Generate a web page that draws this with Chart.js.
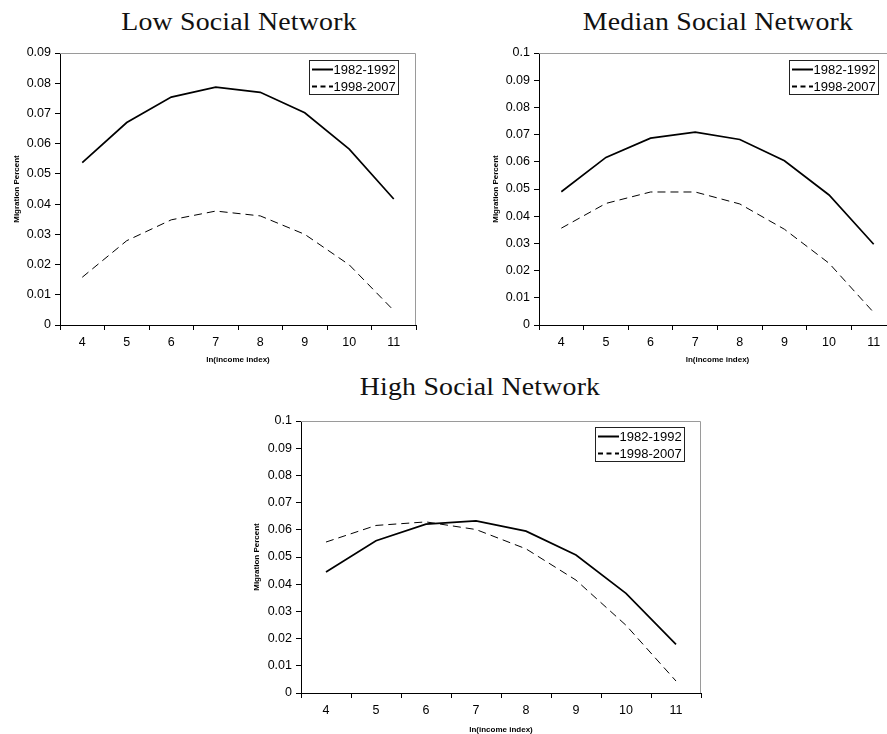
<!DOCTYPE html>
<html>
<head>
<meta charset="utf-8">
<script src="https://cdn.jsdelivr.net/npm/chart.js@4.4.1/dist/chart.umd.min.js"></script>
<style>
  html, body { margin: 0; padding: 0; background: #fff; width: 887px; height: 734px; overflow: hidden; }
  body { position: relative; }
  canvas { position: absolute; }
  .ttl {
    position: absolute; white-space: nowrap; transform: translateX(-50%) scaleX(1.07);
    font-family: "Liberation Serif", "Times New Roman", serif; font-size: 26px;
    line-height: 26px; letter-spacing: 0.2px; color: #111;
  }
</style>
</head>
<body>
<div class="ttl" id="t1" style="left:239px; top:9px;"></div>
<div class="ttl" id="t2" style="left:718px; top:9px;"></div>
<div class="ttl" id="t3" style="left:480px; top:374px;"></div>
<canvas id="c1" width="440" height="370" style="left:0px; top:0px;"></canvas>
<canvas id="c2" width="441" height="370" style="left:479px; top:0px;"></canvas>
<canvas id="c3" width="480" height="380" style="left:240px; top:370px;"></canvas>
<script>
// ln(income index) categories shared by all three panels
const incomeIndex = ['4', '5', '6', '7', '8', '9', '10', '11'];
const periodLabels = ['1982-1992', '1998-2007'];
const panelTitles = ['Low Social Network', 'Median Social Network', 'High Social Network'];

// Migration percent by income level, per network group and period
const lowEarly    = [0.0537, 0.0670, 0.0754, 0.0787, 0.0770, 0.0702, 0.0582, 0.0417];
const lowLate     = [0.0158, 0.0279, 0.0348, 0.0377, 0.0361, 0.0300, 0.0199, 0.0048];
const medianEarly = [0.0490, 0.0616, 0.0687, 0.0709, 0.0682, 0.0604, 0.0478, 0.0297];
const medianLate  = [0.0356, 0.0447, 0.0489, 0.0489, 0.0445, 0.0352, 0.0227, 0.0046];
const highEarly   = [0.0445, 0.0560, 0.0621, 0.0633, 0.0595, 0.0507, 0.0366, 0.0179];
const highLate    = [0.0555, 0.0616, 0.0629, 0.0601, 0.0530, 0.0415, 0.0249, 0.0044];

const yMaxima = [0.09, 0.1, 0.1];

const SANS = '"Liberation Sans", Arial, Helvetica, sans-serif';

document.getElementById('t1').textContent = panelTitles[0];
document.getElementById('t2').textContent = panelTitles[1];
document.getElementById('t3').textContent = panelTitles[2];

// Gray top/right frame and a boxed key in the upper right of the plot
const frameAndKey = {
  id: 'frameAndKey',
  beforeDatasetsDraw(chart) {
    const { ctx, chartArea: a } = chart;
    ctx.save();
    ctx.strokeStyle = '#9a9a9a';
    ctx.lineWidth = 1;
    ctx.beginPath();
    ctx.moveTo(a.left, Math.round(a.top) + 0.5);
    ctx.lineTo(Math.round(a.right) - 0.5, Math.round(a.top) + 0.5);
    ctx.lineTo(Math.round(a.right) - 0.5, a.bottom);
    ctx.stroke();
    ctx.restore();
  },
  afterDraw(chart) {
    const { ctx, chartArea: a } = chart;
    const opts = chart.options.plugins.frameAndKey;
    const sets = chart.data.datasets;
    ctx.save();
    ctx.font = '13px ' + SANS;
    let tw = 0;
    sets.forEach(d => { tw = Math.max(tw, ctx.measureText(d.label).width); });
    const boxW = Math.round(24 + tw + 3);
    const boxH = 34;
    const x0 = Math.round(a.right - opts.gapRight - boxW) + 0.5;
    const y0 = Math.round(a.top + opts.gapTop) + 0.5;
    ctx.fillStyle = '#fff';
    ctx.fillRect(x0, y0, boxW, boxH);
    ctx.strokeStyle = '#222';
    ctx.lineWidth = 1;
    ctx.strokeRect(x0, y0, boxW, boxH);
    const rows = [8.5, 25.5];
    sets.forEach((d, i) => {
      const cy = y0 + rows[i];
      ctx.strokeStyle = '#000';
      ctx.lineWidth = 2;
      ctx.setLineDash(d.borderDash && d.borderDash.length ? [5, 3.5] : []);
      ctx.beginPath();
      ctx.moveTo(x0 + 2.5, Math.round(cy) + 0.5);
      ctx.lineTo(x0 + 23.5, Math.round(cy) + 0.5);
      ctx.stroke();
      ctx.setLineDash([]);
      ctx.fillStyle = '#000';
      ctx.textBaseline = 'middle';
      ctx.textAlign = 'left';
      ctx.fillText(d.label, x0 + 24, cy + 1);
    });
    ctx.restore();
  }
};

function fmtTick(v) {
  return String(Number(v.toFixed(2)));
}

function makePanel(id, early, late, yMax, cfg) {
  return new Chart(document.getElementById(id), {
    type: 'line',
    data: {
      labels: incomeIndex,
      datasets: [
        { label: periodLabels[0], data: early, borderColor: '#000', borderWidth: 1.7,
          pointRadius: 0, tension: 0, fill: false },
        { label: periodLabels[1], data: late, borderColor: '#000', borderWidth: 1,
          borderDash: [8, 5], pointRadius: 0, tension: 0, fill: false }
      ]
    },
    options: {
      responsive: false,
      maintainAspectRatio: false,
      animation: false,
      devicePixelRatio: 1,
      layout: { padding: { top: cfg.padTop, right: cfg.padRight, left: 0, bottom: 0 } },
      plugins: {
        legend: { display: false },
        title: { display: false },
        tooltip: { enabled: false },
        frameAndKey: { gapRight: cfg.keyRight, gapTop: cfg.keyTop }
      },
      scales: {
        x: {
          type: 'category',
          offset: true,
          grid: { offset: true, drawOnChartArea: false, drawTicks: true, tickLength: 5,
                  color: '#000', tickColor: '#000' },
          border: { display: true, color: '#000', width: 1 },
          ticks: { color: '#000', padding: 5, maxRotation: 0, autoSkip: false,
                   font: { family: SANS, size: 12.5 } },
          title: { display: true, text: 'ln(income index)', color: '#000',
                   font: { family: SANS, size: 8, weight: 'bold' },
                   padding: { top: 0, bottom: cfg.xTitlePad } },
          afterFit(s) { s.height = cfg.xHeight; }
        },
        y: {
          type: 'linear',
          min: 0,
          max: yMax,
          grid: { drawOnChartArea: false, drawTicks: true, tickLength: 5,
                  color: '#000', tickColor: '#000' },
          border: { display: true, color: '#000', width: 1 },
          ticks: { stepSize: 0.01, color: '#000', padding: 4, callback: fmtTick,
                   font: { family: SANS, size: 12.5 } },
          title: { display: true, text: 'Migration Percent', color: '#000',
                   font: { family: SANS, size: 8, weight: 'bold' },
                   padding: { top: cfg.yTitlePad, bottom: 0 } },
          afterFit(s) { s.width = cfg.yWidth; }
        }
      }
    },
    plugins: [frameAndKey]
  });
}

makePanel('c1', lowEarly, lowLate, yMaxima[0],
  { padTop: 53, padRight: 24, xHeight: 45, yWidth: 60, xTitlePad: 5, yTitlePad: 12, keyRight: 18, keyTop: 7 });
makePanel('c2', medianEarly, medianLate, yMaxima[1],
  { padTop: 53, padRight: 24, xHeight: 45, yWidth: 60, xTitlePad: 5, yTitlePad: 12, keyRight: 18, keyTop: 7 });
makePanel('c3', highEarly, highLate, yMaxima[2],
  { padTop: 51, padRight: 19, xHeight: 57, yWidth: 61, xTitlePad: 15, yTitlePad: 12, keyRight: 17, keyTop: 6 });
</script>
</body>
</html>
